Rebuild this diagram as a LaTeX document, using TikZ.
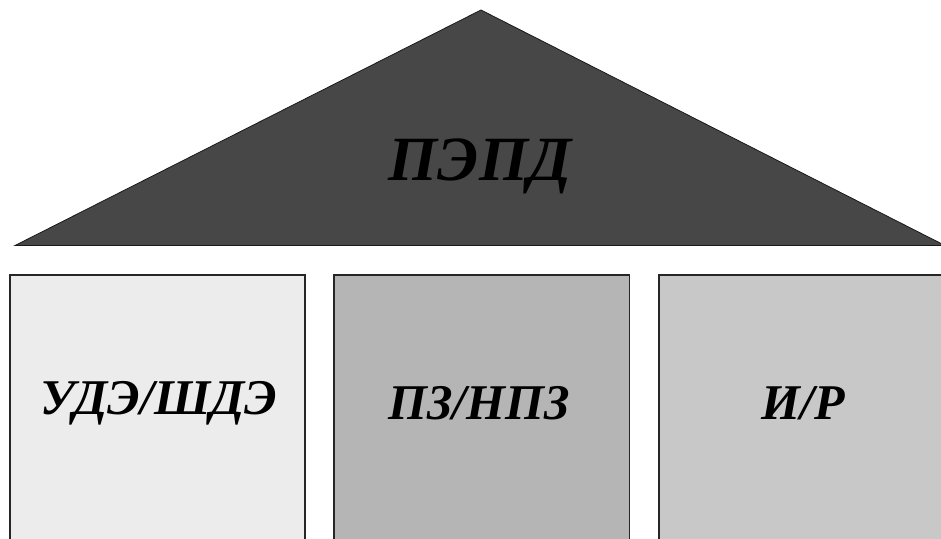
\documentclass[tikz,border=0pt]{standalone}
\usepackage{fontspec}
\setmainfont{Liberation Serif}
\begin{document}
\begin{tikzpicture}[x=1pt,y=-1pt,
  boxstyle/.style={draw=black!85,line width=1.3pt},
  lbl/.style={font=\fontsize{50}{56}\selectfont\bfseries\itshape,text=black,inner sep=0pt}]
\useasboundingbox (0,0) rectangle (941,538);
\clip (0,0) rectangle (941,538);
\fill[white] (0,0) rectangle (941,538);
\coordinate (tl) at (15,245.5);
\coordinate (tr) at (945,245.5);
\coordinate (ta) at (481,10);
\draw[fill=black!72,draw=black!90,line width=0.8pt] (tl) -- (ta) -- (tr) -- cycle;
\node[font=\fontsize{63}{70}\selectfont\bfseries\itshape,inner sep=0pt] (title) at (480,166) {ПЭПД};
\draw[boxstyle,fill=black!7.5] (10,275) rectangle (305,560);
\draw[boxstyle,fill=black!29] (334,275) rectangle (629.5,560);
\draw[boxstyle,fill=black!21.5] (659,275) rectangle (948,560);
\node[lbl] (b1) at (159,403) {УДЭ/ШДЭ};
\node[lbl] (b2) at (479,403) {ПЗ/НПЗ};
\node[lbl] (b3) at (803,403) {И/Р};
\end{tikzpicture}
\end{document}
